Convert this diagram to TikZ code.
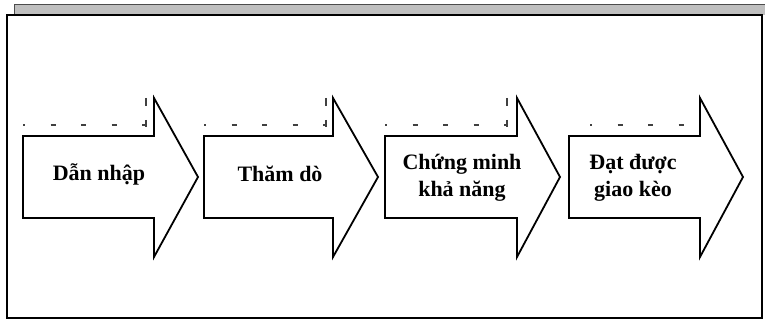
\documentclass[tikz,border=0pt]{standalone}
\usepackage{fontspec}
\setmainfont{Liberation Serif}
\usepackage{tikz}
\tikzset{
  stframe/.style={line width=2.6pt, draw=black},
  stband/.style={line width=1pt, draw=black!70, fill=black!25},
  starrow/.style={line width=1.8pt, draw=black, fill=white, line join=miter},
  stdash/.style={line width=2.2pt, draw=black!75, dash pattern=on 5pt off 25.5pt, dash phase=3pt},
  stdashv/.style={line width=2.2pt, draw=black!75, dash pattern=on 8pt off 14pt},
  sttext/.style={font=\bfseries\fontsize{22}{27}\selectfont, align=center, inner sep=0pt},
}
\begin{document}
\begin{tikzpicture}[x=1pt,y=-1pt]
\useasboundingbox (0,0) rectangle (765,323);
\draw[stband] (14,15) -- (14,5) -- (765,5) -- (765,15);
\draw[stframe] (7,15) rectangle (762,318);
\draw[stdash] (23,125) -- (146,125);
\draw[stdash] (204,125) -- (326,125);
\draw[stdash] (385,125) -- (507,125);
\draw[stdash] (590,125) -- (700,125);
\draw[stdashv] (146,98) -- (146,127);
\draw[stdashv] (326,98) -- (326,127);
\draw[stdashv] (507,98) -- (507,127);
\draw[starrow] (23,136) -- (154,136) -- (154,98) -- (198,177) -- (154,257) -- (154,218) -- (23,218) -- cycle;
\draw[starrow] (204,136) -- (333,136) -- (333,98) -- (378,177) -- (333,257) -- (333,218) -- (204,218) -- cycle;
\draw[starrow] (385,136) -- (517,136) -- (517,98) -- (560,177) -- (517,257) -- (517,218) -- (385,218) -- cycle;
\draw[starrow] (569,136) -- (700,136) -- (700,98) -- (743,177) -- (700,257) -- (700,218) -- (569,218) -- cycle;
\node[sttext] (dannhap) at (99,174) {Dẫn nhập};
\node[sttext] (thamdo) at (280,174) {Thăm dò};
\node[sttext] (chungminh) at (462,178) {Chứng minh\\khả năng};
\node[sttext] (datduoc) at (633,178) {Đạt được\\giao kèo};
\end{tikzpicture}
\end{document}
